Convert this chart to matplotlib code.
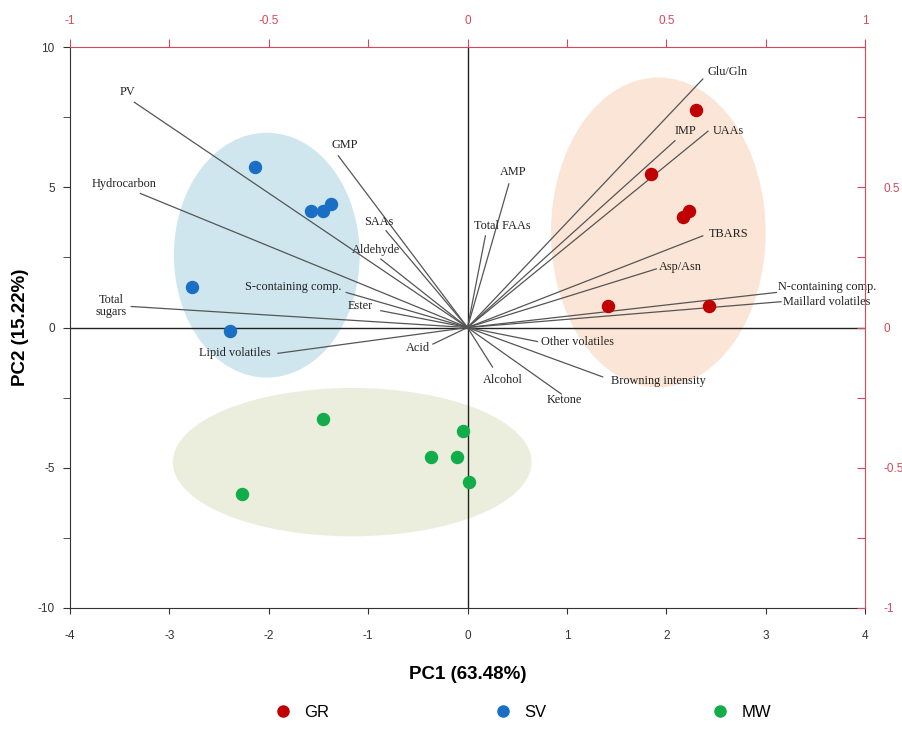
import numpy as np
import matplotlib
matplotlib.use('Agg')
import matplotlib.pyplot as plt
from matplotlib.patches import Ellipse
from matplotlib.lines import Line2D

plt.rcParams['axes.unicode_minus'] = False

# scores (PC1, PC2) per group
gr_pc1 = [2.30, 1.85, 2.23, 2.17, 1.41, 2.43]
gr_pc2 = [7.75, 5.49, 4.15, 3.93, 0.78, 0.78]
sv_pc1 = [-2.14, -1.57, -1.45, -1.37, -2.77, -2.39]
sv_pc2 = [5.73, 4.15, 4.15, 4.39, 1.45, -0.11]
mw_pc1 = [-1.45, -0.05, -0.37, -0.11, 0.01, -2.27]
mw_pc2 = [-3.26, -3.70, -4.61, -4.61, -5.51, -5.95]

# variable loadings
var_names = ['PV', 'Hydrocarbon', 'GMP', 'SAAs', 'Aldehyde', 'S-containing comp.', 'Ester',
             'Total\nsugars', 'Lipid volatiles', 'Acid', 'Alcohol', 'Ketone', 'Browning intensity',
             'Other volatiles', 'Glu/Gln', 'IMP', 'UAAs', 'AMP', 'Total FAAs', 'TBARS', 'Asp/Asn',
             'N-containing comp.', 'Maillard volatiles']
load_pc1 = [-0.838, -0.823, -0.325, -0.205, -0.218, -0.305, -0.218,
            -0.846, -0.477, -0.087, 0.063, 0.236, 0.340,
            0.176, 0.592, 0.522, 0.605, 0.104, 0.045, 0.592, 0.475,
            0.777, 0.789]
load_pc2 = [0.803, 0.478, 0.612, 0.345, 0.244, 0.125, 0.060,
            0.075, -0.092, -0.059, -0.141, -0.237, -0.176,
            -0.050, 0.886, 0.666, 0.700, 0.512, 0.327, 0.327, 0.209,
            0.125, 0.092]

# label placement: (ha, dx, dy) in pixels
label_pos = {
    'PV': ('center', -7, 10), 'Hydrocarbon': ('center', -16, 9), 'GMP': ('center', 6, 11),
    'SAAs': ('center', -7, 9), 'Aldehyde': ('center', -5, 9),
    'S-containing comp.': ('right', -5, 5), 'Ester': ('right', -8, 5),
    'Total\nsugars': ('right', -4, 0), 'Lipid volatiles': ('right', -7, 0),
    'Acid': ('right', -3, -4), 'Alcohol': ('center', 10, -13), 'Ketone': ('center', 3, -6),
    'Browning intensity': ('left', 8, -4), 'Other volatiles': ('left', 4, 0),
    'Glu/Gln': ('left', 5, 7), 'IMP': ('center', 10, 10), 'UAAs': ('left', 5, 0),
    'AMP': ('center', 4, 12), 'Total FAAs': ('center', 17, 10), 'TBARS': ('left', 6, 2),
    'Asp/Asn': ('left', 3, 2), 'N-containing comp.': ('left', 2, 5),
    'Maillard volatiles': ('left', 2, 0),
}

RED = '#d6485a'
AXC = '#333333'

fig = plt.figure(figsize=(9.02, 7.42), dpi=100)
rect = [0.0776, 0.1806, 0.8814, 0.756]
ax = fig.add_axes(rect)
axl = fig.add_axes(rect, facecolor='none')
axl.set_zorder(ax.get_zorder() + 1)

ax.set_xlim(-4, 4)
ax.set_ylim(-10, 10)
axl.set_xlim(-1, 1)
axl.set_ylim(-1, 1)

# group ellipses
ax.add_patch(Ellipse((1.92, 3.39), 2.16, 11.05, facecolor='#fbe5d6', edgecolor='none', zorder=0))
ax.add_patch(Ellipse((-2.02, 2.58), 1.87, 8.73, facecolor='#cfe6ef', edgecolor='none', zorder=0))
ax.add_patch(Ellipse((-1.16, -4.80), 3.61, 5.29, facecolor='#ebeedd', edgecolor='none', zorder=0))

ax.axhline(0, color='#222222', lw=1.0, zorder=1)
ax.axvline(0, color='#222222', lw=1.0, zorder=1)

# loading vectors
for name, lx, ly in zip(var_names, load_pc1, load_pc2):
    ax.plot([0, lx], [0, ly], color='#555555', lw=0.9, transform=axl.transData, zorder=2)
    ha, dx, dy = label_pos[name]
    ax.annotate(name, xy=(lx, ly), xycoords=axl.transData, xytext=(dx, dy),
                textcoords='offset pixels', ha=ha, va='center', fontsize=8.8,
                family=['Liberation Serif', 'DejaVu Serif'], color='#222222',
                multialignment='center', linespacing=1.0, zorder=3)

ax.scatter(gr_pc1, gr_pc2, s=75, color='#c00000', zorder=4)
ax.scatter(sv_pc1, sv_pc2, s=75, color='#1a6fc4', zorder=4)
ax.scatter(mw_pc1, mw_pc2, s=75, color='#12ad4b', zorder=4)

# main axes: left / bottom
for s in ['top', 'right']:
    ax.spines[s].set_visible(False)
for s in ['left', 'bottom']:
    ax.spines[s].set_color(AXC)
ax.set_xticks(np.arange(-4, 5, 1))
ax.set_yticks([-10, -5, 0, 5, 10])
ax.set_yticks([-7.5, -2.5, 2.5, 7.5], minor=True)
ax.tick_params(axis='x', direction='out', length=4, pad=12, color=AXC, labelcolor=AXC, labelsize=8.5)
ax.tick_params(axis='y', which='both', direction='out', length=5, pad=6, color=AXC, labelcolor=AXC, labelsize=8.5)
for lab in ax.get_xticklabels() + ax.get_yticklabels():
    lab.set_family('Liberation Sans')

# loading axes: top / right in red
for s in ['left', 'bottom']:
    axl.spines[s].set_visible(False)
for s in ['top', 'right']:
    axl.spines[s].set_color(RED)
axl.xaxis.tick_top()
axl.yaxis.tick_right()
axl.set_xticks(np.arange(-1, 1.01, 0.25))
axl.set_xticklabels(['-1', '', '-0.5', '', '0', '', '0.5', '', '1'])
axl.set_yticks(np.arange(-1, 1.01, 0.25))
axl.set_yticklabels(['-1', '', '-0.5', '', '0', '', '0.5', '', ''])
axl.tick_params(axis='x', direction='out', length=5.5, pad=9, color=RED, labelcolor=RED, labelsize=8.5)
axl.tick_params(axis='y', direction='in', length=6, pad=13, color=RED, labelcolor=RED, labelsize=8.5)
for lab in axl.get_xticklabels() + axl.get_yticklabels():
    lab.set_family('Liberation Sans')

ax.set_xlabel('PC1 (63.48%)', fontsize=13.5, fontweight='bold', family='Liberation Sans', labelpad=17)
ax.set_ylabel('PC2 (15.22%)', fontsize=13.5, fontweight='bold', family='Liberation Sans', labelpad=6)

handles = [Line2D([], [], marker='o', ls='none', color=c, markersize=8)
           for c in ['#c00000', '#1a6fc4', '#12ad4b']]
fig.legend(handles, ['GR', 'SV', 'MW'], loc='center', bbox_to_anchor=(0.575, 0.04), ncol=3,
           frameon=False, columnspacing=9.4, handletextpad=0.3, prop={'family': 'Liberation Sans', 'size': 12})

fig.savefig('out.png', dpi=100)
